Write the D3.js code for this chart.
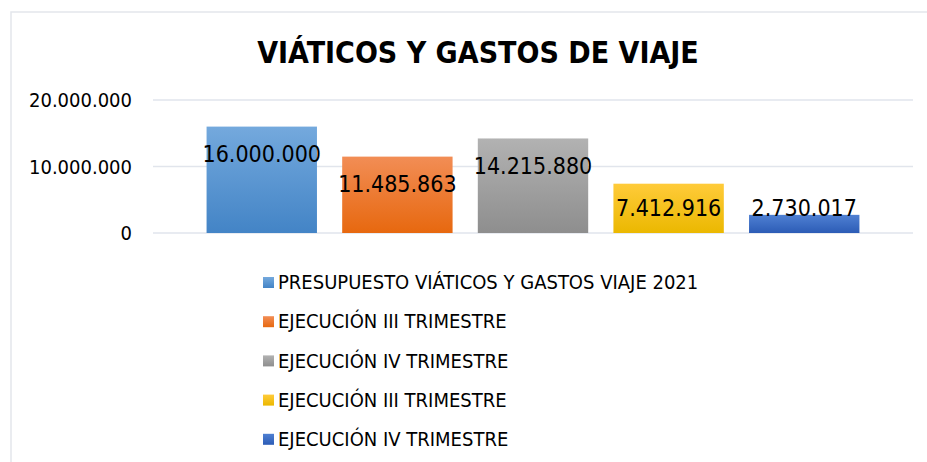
<!DOCTYPE html>
<html>
<head>
<meta charset="utf-8">
<script src="https://d3js.org/d3.v7.min.js"></script>
<style>
	body { margin: 0; background: #fff; }
	svg text { font-family: "DejaVu Sans Condensed", "DejaVu Sans", sans-serif; fill: #000; }
	.title { font-weight: bold; font-size: 30px; }
	.tick-label { font-size: 20px; }
	.bar-label { font-size: 23px; }
	.legend-text { font-size: 20px; }
</style>
</head>
<body>
<div class="chart"></div>
<script>
	var w = 927, h = 462;

	// data
	var series = ["PRESUPUESTO VIÁTICOS Y GASTOS VIAJE 2021", "EJECUCIÓN III TRIMESTRE", "EJECUCIÓN IV TRIMESTRE", "EJECUCIÓN III TRIMESTRE", "EJECUCIÓN IV TRIMESTRE"];
	var values = [16000000, 11485863, 14215880, 7412916, 2730017];
	var labels = ["16.000.000", "11.485.863", "14.215.880", "7.412.916", "2.730.017"];
	var ticks = [0, 10000000, 20000000];
	var tickLabels = ["0", "10.000.000", "20.000.000"];
	var colorsTop = ["#74a9dd", "#f28d55", "#b2b2b2", "#ffcb3a", "#4f80d2"];
	var colorsBottom = ["#4384c6", "#e7680f", "#8e8e8e", "#ebb800", "#2c5cb6"];

	var svg = d3.select(".chart")
		.append("svg")
		.attr("width", w)
		.attr("height", h);

	// chart frame (cut off on right and bottom)
	svg.append("rect")
		.attr("x", 11).attr("y", 12)
		.attr("width", 930).attr("height", 470)
		.attr("fill", "#fff")
		.attr("stroke", "#e3e6ec")
		.attr("stroke-width", 1.5);

	var defs = svg.append("defs");
	series.forEach(function(s, i) {
		var g = defs.append("linearGradient")
			.attr("id", "grad" + i)
			.attr("x1", 0).attr("y1", 0).attr("x2", 0).attr("y2", 1);
		g.append("stop").attr("offset", "0%").attr("stop-color", colorsTop[i]);
		g.append("stop").attr("offset", "100%").attr("stop-color", colorsBottom[i]);
	});

	var x = d3.scaleBand()
		.domain(d3.range(series.length))
		.range([153, 913])
		.paddingInner(0.186)
		.paddingOuter(0.395);

	var y = d3.scaleLinear()
		.domain([0, 20000000])
		.range([233, 100]);

	svg.append("text")
		.attr("class", "title")
		.attr("x", 478)
		.attr("y", 63)
		.attr("text-anchor", "middle")
		.text("VIÁTICOS Y GASTOS DE VIAJE");

	// gridlines
	svg.append("g")
		.selectAll("line")
		.data(ticks)
		.enter()
		.append("line")
		.attr("x1", 153).attr("x2", 913)
		.attr("y1", function(d) { return y(d); })
		.attr("y2", function(d) { return y(d); })
		.attr("stroke", "#e1e5ec")
		.attr("stroke-width", 1.5);

	svg.append("g")
		.selectAll("text")
		.data(ticks)
		.enter()
		.append("text")
		.attr("class", "tick-label")
		.attr("x", 132)
		.attr("y", function(d) { return y(d); })
		.attr("dy", "0.36em")
		.attr("text-anchor", "end")
		.text(function(d, i) { return tickLabels[i]; });

	svg.append("g")
		.selectAll("rect")
		.data(values)
		.enter()
		.append("rect")
		.attr("x", function(d, i) { return x(i); })
		.attr("width", x.bandwidth())
		.attr("y", function(d) { return y(d); })
		.attr("height", function(d) { return y(0) - y(d); })
		.attr("fill", function(d, i) { return "url(#grad" + i + ")"; });

	svg.append("g")
		.selectAll("text")
		.data(values)
		.enter()
		.append("text")
		.attr("class", "bar-label")
		.attr("x", function(d, i) { return x(i) + x.bandwidth() / 2; })
		.attr("y", function(d) { return Math.min(y(d) + 27, y(0) - 25); })
		.attr("dy", "0.36em")
		.attr("text-anchor", "middle")
		.text(function(d, i) { return labels[i]; });

	// legend
	var legend = svg.append("g")
		.selectAll("g")
		.data(series)
		.enter()
		.append("g")
		.attr("transform", function(d, i) { return "translate(263," + (282 + i * 39.2) + ")"; });
	legend.append("rect")
		.attr("x", 0).attr("y", -5)
		.attr("width", 11).attr("height", 11)
		.attr("fill", function(d, i) { return "url(#grad" + i + ")"; });
	legend.append("text")
		.attr("class", "legend-text")
		.attr("x", 15)
		.attr("y", 0)
		.attr("dy", "0.36em")
		.text(function(d) { return d; });
</script>
</body>
</html>
